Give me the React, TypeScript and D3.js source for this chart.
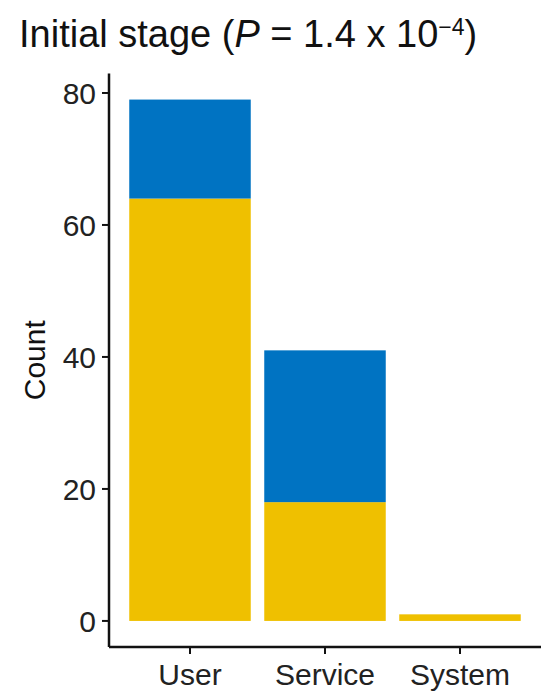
import React from "react";
import * as d3 from "d3";

const categories = ["User", "Service", "System"];
const groups = ["Yellow", "Blue"];
const yellowValues = [64, 18, 1];
const blueValues = [15, 23, 0];
const yTicks = [0, 20, 40, 60, 80];
const colors = ["#EFC000", "#0073C2"];

export default function App() {
  const W = 550, H = 698;
  const left = 109, right = 541, top = 73.5, bottom = 647;
  const totals = categories.map((_, i) => yellowValues[i] + blueValues[i]);
  const maxV = d3.max(totals) as number;
  const pad = maxV * 0.05;
  const y = d3.scaleLinear().domain([-pad, maxV + pad]).range([bottom, top]);
  const x = d3.scaleBand().domain(categories).range([left, right]).paddingInner(0.1).paddingOuter(0.15);
  const rows = categories.map((c, i) => ({ cat: c, Yellow: yellowValues[i], Blue: blueValues[i] }));
  const stack = d3.stack<any>().keys(groups)(rows);
  const font = "Liberation Sans, Arial, sans-serif";
  return (
    <svg width={W} height={H} style={{ position: "absolute", left: 0, top: 0, background: "#fff" }} fontFamily={font}>
      <text x={19} y={47} fontSize={38} fill="#111">
        Initial stage (<tspan fontStyle="italic">P</tspan> = 1.4 x 10<tspan fontSize={23} dy={-12}>−4</tspan><tspan dy={12}>)</tspan>
      </text>
      {stack.map((s, gi) =>
        s.map((d, i) => {
          const h = y(d[0]) - y(d[1]);
          if (h <= 0) return null;
          return (
            <rect key={gi + "-" + i} x={x(categories[i])} width={x.bandwidth()} y={y(d[1])} height={h} fill={colors[gi]} />
          );
        })
      )}
      <line x1={left} x2={left} y1={top} y2={bottom} stroke="#111" strokeWidth={2.5} />
      <line x1={left} x2={right} y1={bottom} y2={bottom} stroke="#111" strokeWidth={2.5} />
      {yTicks.map((t) => (
        <g key={t}>
          <line x1={left - 7} x2={left} y1={y(t)} y2={y(t)} stroke="#111" strokeWidth={2} />
          <text x={left - 13} y={y(t)} dy="0.36em" textAnchor="end" fontSize={30} fill="#222">{t}</text>
        </g>
      ))}
      {categories.map((c) => {
        const cx = (x(c) as number) + x.bandwidth() / 2;
        return (
          <g key={c}>
            <line x1={cx} x2={cx} y1={bottom} y2={bottom + 7} stroke="#111" strokeWidth={2} />
            <text x={cx} y={685} textAnchor="middle" fontSize={30} fill="#222">{c}</text>
          </g>
        );
      })}
      <text transform={`translate(45,${(top + bottom) / 2}) rotate(-90)`} textAnchor="middle" fontSize={30} fill="#111">Count</text>
    </svg>
  );
}
